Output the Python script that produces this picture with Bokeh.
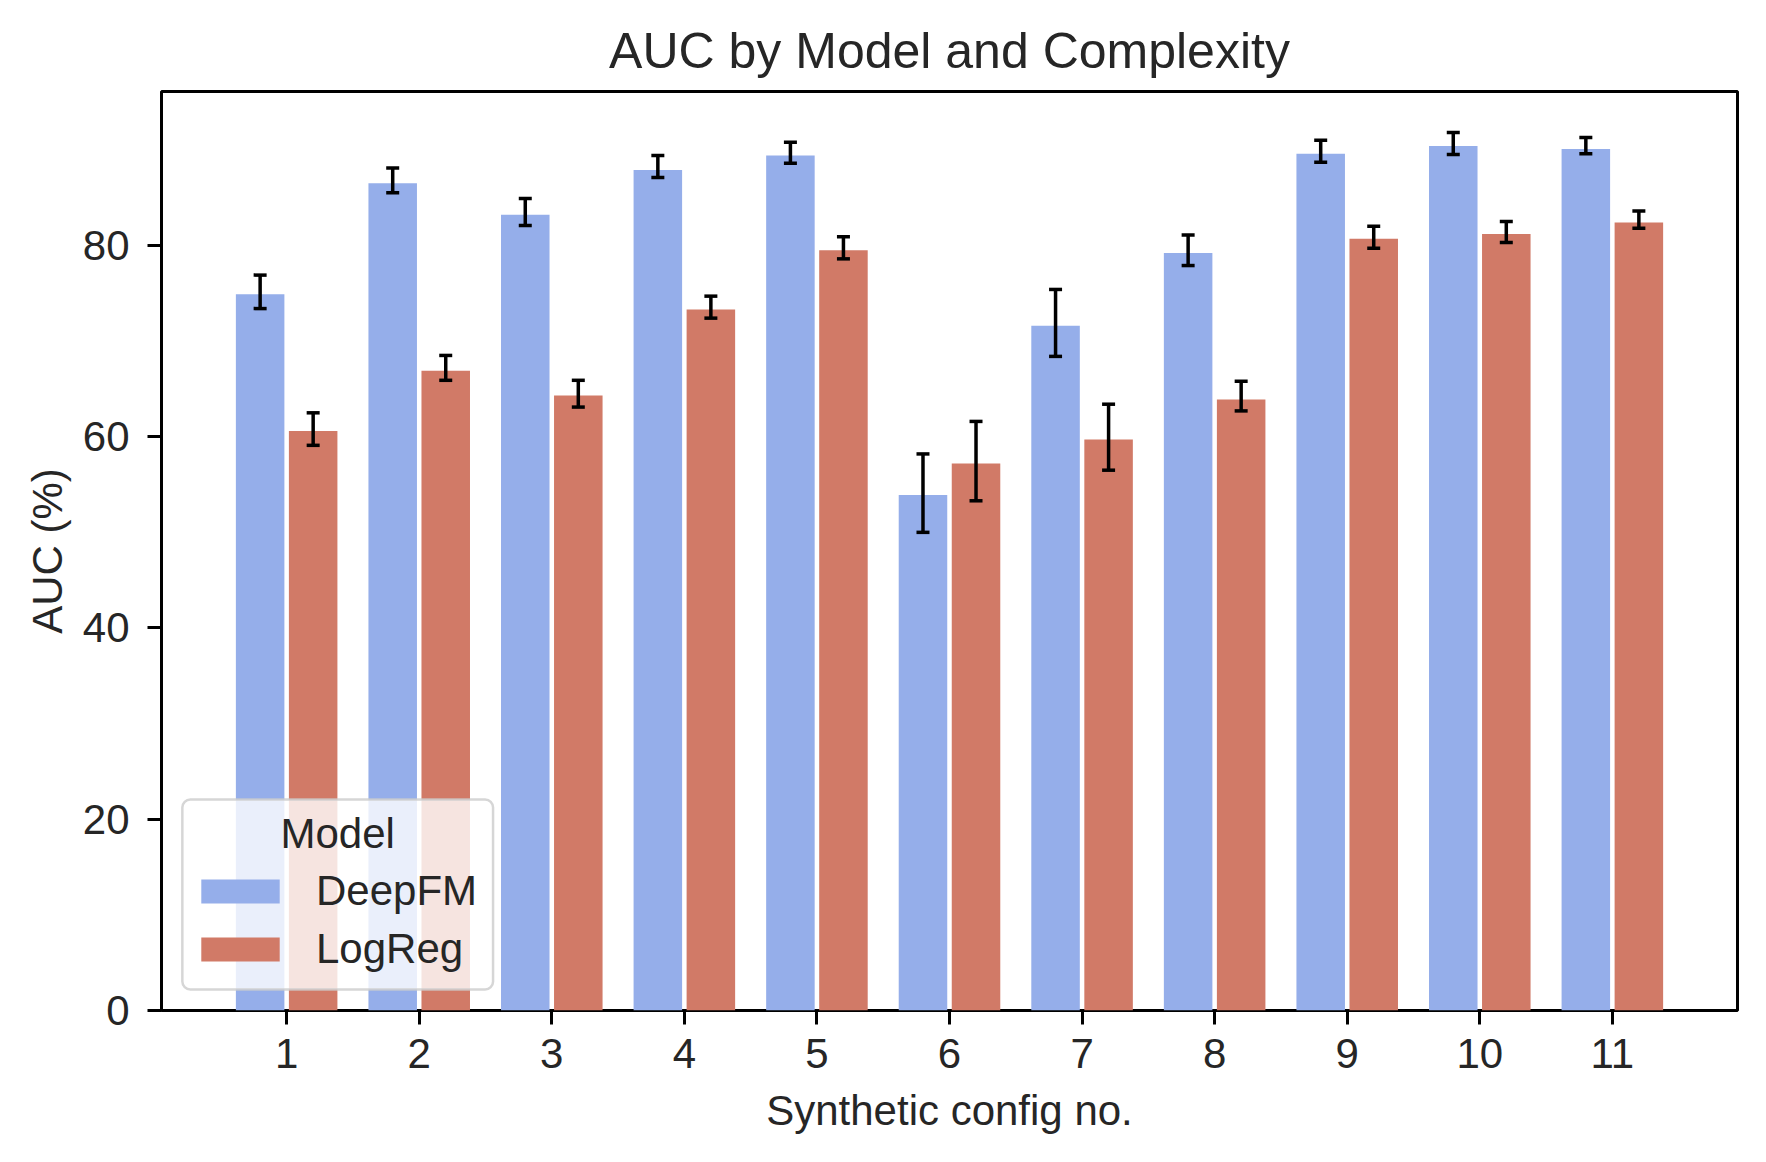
import numpy as np
from bokeh.plotting import figure
from bokeh.models import (ColumnDataSource, Range1d, FixedTicker, Whisker, TeeHead,
                          Legend, LegendItem, BoxAnnotation, Label)
from bokeh.transform import dodge
from bokeh.embed import file_html
from bokeh.resources import INLINE

# ---- data ----
configs = [1, 2, 3, 4, 5, 6, 7, 8, 9, 10, 11]
models = ["DeepFM", "LogReg"]
legend_title = "Model"
deepfm_auc = [74.9, 86.5, 83.2, 87.9, 89.4, 53.9, 71.6, 79.2, 89.6, 90.4, 90.1]
deepfm_lo = [73.4, 85.5, 82.1, 87.1, 88.6, 50.0, 68.4, 77.9, 88.7, 89.5, 89.6]
deepfm_hi = [76.9, 88.1, 84.9, 89.4, 90.8, 58.2, 75.4, 81.1, 91.0, 91.8, 91.3]
logreg_auc = [60.6, 66.9, 64.3, 73.3, 79.5, 57.2, 59.7, 63.9, 80.7, 81.2, 82.4]
logreg_lo = [59.1, 65.9, 63.1, 72.4, 78.6, 53.3, 56.5, 62.7, 79.7, 80.3, 81.8]
logreg_hi = [62.5, 68.5, 65.9, 74.7, 80.9, 61.6, 63.4, 65.8, 82.0, 82.5, 83.6]
y_ticks = [0, 20, 40, 60, 80]

BLUE = "#95AEEA"
RED = "#D17A67"
TXT = "#262626"
FONT = "Liberation Sans"

src = ColumnDataSource(dict(
    config=configs,
    deep=deepfm_auc, deep_lo=deepfm_lo, deep_hi=deepfm_hi,
    log=logreg_auc, log_lo=logreg_lo, log_hi=logreg_hi,
))

p = figure(width=1758, height=1154, output_backend="svg", toolbar_location=None,
           x_range=Range1d(0.056, 11.944), y_range=Range1d(0, 96.1),
           min_border_left=161, min_border_right=21, min_border_top=91,
           min_border_bottom=144, title="AUC by Model and Complexity")
p.background_fill_color = "white"
p.border_fill_color = "white"
p.outline_line_color = "black"
p.outline_line_width = 3
p.grid.grid_line_color = None

p.title.text_font = FONT
p.title.text_font_size = "50px"
p.title.text_font_style = "normal"
p.title.text_color = TXT
p.title.align = "center"
p.title.standoff = 25

r1 = p.vbar(x=dodge("config", -0.2, range=p.x_range), top="deep", width=0.366,
            bottom=0, source=src, fill_color=BLUE, line_color=None)
r2 = p.vbar(x=dodge("config", 0.2, range=p.x_range), top="log", width=0.366,
            bottom=0, source=src, fill_color=RED, line_color=None)

for off, lo, hi in [(-0.2, "deep_lo", "deep_hi"), (0.2, "log_lo", "log_hi")]:
    w = Whisker(source=src, base=dodge("config", off, range=p.x_range), lower=lo, upper=hi,
                dimension="height", line_color="black", line_width=3.5, level="annotation",
                upper_head=TeeHead(size=13, line_width=3.5, line_color="black"),
                lower_head=TeeHead(size=13, line_width=3.5, line_color="black"))
    p.add_layout(w)

p.xaxis.ticker = FixedTicker(ticks=configs)
p.yaxis.ticker = FixedTicker(ticks=y_ticks)
p.xaxis.axis_label = "Synthetic config no."
p.yaxis.axis_label = "AUC (%)"
for ax in p.axis:
    ax.axis_line_color = None
    ax.major_tick_out = 14
    ax.major_tick_in = 0
    ax.major_tick_line_width = 3
    ax.major_tick_line_color = "black"
    ax.minor_tick_line_color = None
    ax.major_label_text_font = FONT
    ax.major_label_text_font_size = "42px"
    ax.major_label_text_color = TXT
    ax.axis_label_text_font = FONT
    ax.axis_label_text_font_size = "42px"
    ax.axis_label_text_font_style = "normal"
    ax.axis_label_text_color = TXT
p.yaxis.major_label_standoff = 18
p.xaxis.major_label_standoff = 14
p.yaxis.axis_label_standoff = 9
p.xaxis.axis_label_standoff = 16

# legend frame (semi-transparent white box with light grey rounded border)
box = BoxAnnotation(left=0.2133, right=2.557, bottom=2.2, top=22.07,
                    fill_color="white", fill_alpha=0.8,
                    line_color="#cccccc", line_alpha=0.8, line_width=2.5,
                    border_radius=8, level="annotation")
p.add_layout(box)

legend = Legend(items=[LegendItem(label=models[0], renderers=[r1]),
                       LegendItem(label=models[1], renderers=[r2])],
                location=(30, 37))
legend.label_text_font = FONT
legend.label_text_font_size = "42px"
legend.label_text_color = TXT
legend.glyph_width = 98
legend.glyph_height = 30
legend.label_standoff = 27
legend.spacing = 10
legend.padding = 10
legend.margin = 0
legend.background_fill_alpha = 0
legend.border_line_color = None
p.add_layout(legend)

title_lbl = Label(x=1.385, y=18.5, text=legend_title, text_align="center",
                  text_baseline="middle", text_font=FONT, text_font_size="42px",
                  text_color=TXT, level="annotation")
p.add_layout(title_lbl)

open("out.html", "w").write(file_html(p, INLINE))
